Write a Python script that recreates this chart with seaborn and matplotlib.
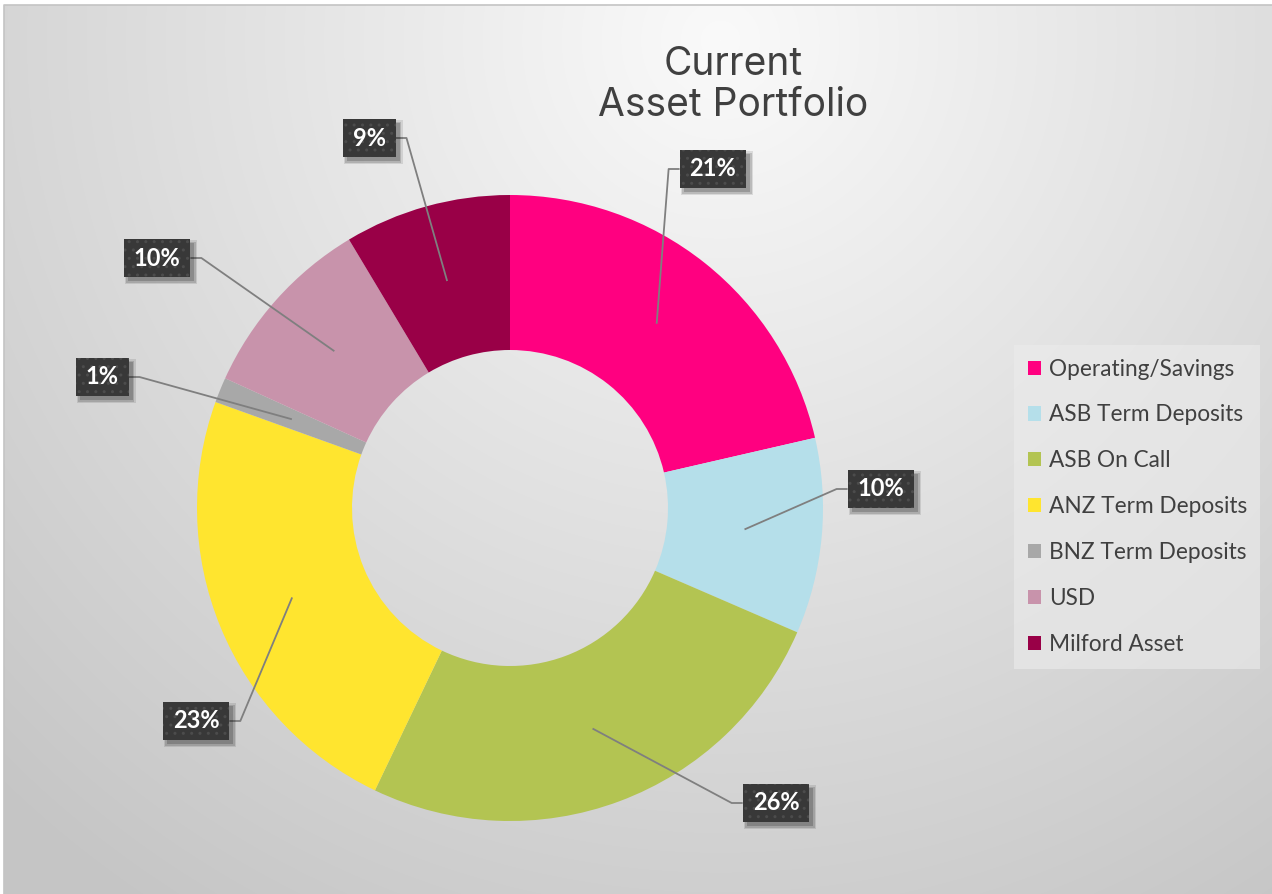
import numpy as np
import matplotlib
matplotlib.use("Agg")
import matplotlib.pyplot as plt
from matplotlib.patches import Rectangle
import seaborn as sns

# ---- data ----
categories = ["Operating/Savings", "ASB Term Deposits", "ASB On Call",
              "ANZ Term Deposits", "BNZ Term Deposits", "USD", "Milford Asset"]
values = [21.4, 10.1, 25.6, 23.4, 1.3, 9.6, 8.6]
pct_labels = ["21%", "10%", "26%", "23%", "1%", "10%", "9%"]
colors = ["#FF0080", "#B5DFEA", "#B3C452", "#FFE52F", "#A8A8A8", "#C893AB", "#990047"]
title = "Current\nAsset Portfolio"

# ---- layout (pixels, top-left origin) ----
W, H = 1272, 894
center_px = (510, 508)
radius = 313
hole_width = 155
label_pos_px = [(713, 169), (881, 489), (776, 803), (196, 721),
                (102, 377), (157, 258), (369, 138)]
box_h = 38
box_padx = 10

sns.set_theme(style="white")
palette = sns.color_palette(colors)

fig = plt.figure(figsize=(W / 100, H / 100), dpi=100)
fig.patch.set_facecolor("white")
ax = fig.add_axes([0, 0, 1, 1])

# background radial gradient
yy, xx = np.mgrid[0:H, 0:W]
d = np.hypot(xx - 720, yy - 40)
g = 250 - (250 - 197) * np.clip(d / 1050, 0, 1)
img = np.dstack([g, g, g]) / 255.0
img[:5, :, :] = 1.0
img[:, :4, :] = 1.0
ax.imshow(img, extent=(0, W, 0, H), origin="upper", aspect="auto", zorder=0)
ax.plot([4, 4, W], [0, H - 5, H - 5], color="#c4c4c4", lw=1.2, zorder=1)

cx, cy = center_px[0], H - center_px[1]
wedges, _ = ax.pie(values, colors=palette, startangle=90, counterclock=False,
                   center=(cx, cy), radius=radius, frame=True,
                   wedgeprops=dict(width=hole_width, edgecolor="none", linewidth=0))
for w in wedges:
    w.set_zorder(2)

ax.set_xlim(0, W)
ax.set_ylim(0, H)
ax.set_aspect("auto")
ax.axis("off")

# title
ax.text(733, H - 85, title, ha="center", va="center", fontsize=28,
        family=["Inter", "DejaVu Sans"], color="#404040", linespacing=1.15, zorder=5)

# data labels
texts = []
for lab, (lx, ly) in zip(pct_labels, label_pos_px):
    t = ax.text(lx, H - ly, lab, ha="center", va="center", fontsize=17,
                fontweight="bold", family=["Lato", "DejaVu Sans"], color="white",
                zorder=8)
    texts.append(t)

fig.canvas.draw()
renderer = fig.canvas.get_renderer()
for w, t, (lx, ly) in zip(wedges, texts, label_pos_px):
    bb = t.get_window_extent(renderer)
    bw = bb.width + 2 * box_padx
    x0, x1 = lx - bw / 2, lx + bw / 2
    yc = H - ly
    y0 = yc - box_h / 2
    # soft shadow
    for k, a in [(3, 0.10), (1.5, 0.14), (0, 0.18)]:
        ax.add_patch(Rectangle((x0 + 4 - k, y0 - 4 - k), bw + 2 * k, box_h + 2 * k,
                               facecolor="black", alpha=a, edgecolor="none", zorder=6))
    ax.add_patch(Rectangle((x0, y0), bw, box_h, facecolor="#383838",
                           edgecolor="#4c4c4c", hatch="..", lw=0, zorder=7))
    mid = np.deg2rad((w.theta1 + w.theta2) / 2)
    r_mid = radius - hole_width / 2
    axp, ayp = cx + r_mid * np.cos(mid), cy + r_mid * np.sin(mid)
    if lx > axp:
        ex, elbow = x0, x0 - 11
    else:
        ex, elbow = x1, x1 + 11
    ax.plot([ex, elbow, axp], [yc, yc, ayp], color="#7f7f7f", lw=1.3, zorder=4,
            solid_capstyle="butt")

# legend
leg = ax.legend(wedges, categories, loc="upper left",
                bbox_to_anchor=(1014 / W, 1 - 345 / H), bbox_transform=fig.transFigure,
                frameon=True, fancybox=False,
                prop=dict(family=["Lato", "DejaVu Sans"], size=16.3),
                handlelength=0.58, handleheight=0.58, handletextpad=0.35,
                labelspacing=1.1, borderpad=0.6, borderaxespad=0)
leg.get_frame().set_facecolor("#ececec")
leg.get_frame().set_alpha(0.6)
leg.get_frame().set_edgecolor("none")
for txt in leg.get_texts():
    txt.set_color("#404040")

fig.savefig("out.png", dpi=100)
